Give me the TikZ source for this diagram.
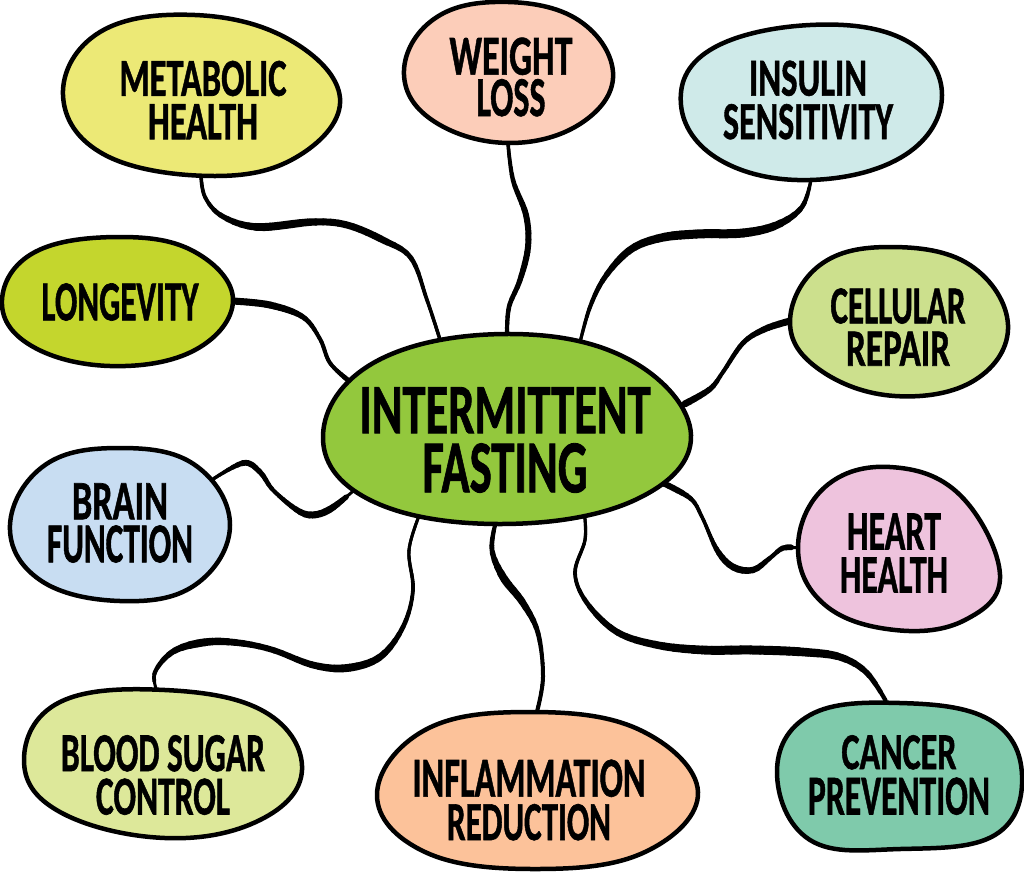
\documentclass[tikz,border=0pt]{standalone}
\usepackage{fontspec}
\usepackage{graphicx}
\usetikzlibrary{shapes.geometric}
\newfontfamily\handfont[FakeBold=1.2]{Carlito}
\definecolor{cMeta}{HTML}{ECE976}\definecolor{cWeight}{HTML}{FCCDB9}\definecolor{cInsulin}{HTML}{CFEAE9}
\definecolor{cLong}{HTML}{C4D62D}\definecolor{cCell}{HTML}{CCE08D}\definecolor{cHub}{HTML}{93C83D}
\definecolor{cBrain}{HTML}{C8DDF2}\definecolor{cHeart}{HTML}{EEC3DD}\definecolor{cBlood}{HTML}{DDE89A}
\definecolor{cInfl}{HTML}{FCC29A}\definecolor{cCancer}{HTML}{7FCAAB}
\newcommand{\fitline}[3]{\resizebox{#1pt}{#2pt}{\handfont\bfseries #3}}
\newcommand{\twolines}[3]{\vbox{\offinterlineskip\halign{\hfil##\hfil\cr #1\cr\noalign{\vskip #3pt}#2\cr}}}
\tikzset{
  blobline/.style={draw=black,line width=4.5pt,line join=round},
  anchorshape/.style={ellipse,inner sep=0pt,outer sep=0pt},
  lettering/.style={inner sep=0pt,outer sep=0pt,text=black},
  link/.style={draw=black,line width=3pt,line cap=round,line join=round},
}
% a connector: #1 its length, #2 widths spread evenly along it, #3 its points.
% Each stretch is the same curve redrawn through a one-window dash pattern.
\newcommand{\taperlink}[3]{%
  \draw[link] plot[smooth,tension=0.6] coordinates {#3};
  \foreach \wx [count=\cx] in {#2} {\global\let\myn\cx}
  \foreach \wb [remember=\wb as \wa (initially 0),count=\ix] in {#2} {
    \ifnum\ix>1
      \foreach \kx in {0,1,2,3} {
        \pgfmathsetmacro\mywid{\wa+(\wb-\wa)*(\kx+0.5)/4}
        \pgfmathsetmacro\myseg{#1/((\myn-1)*4)}
        \pgfmathsetmacro\myoff{(\ix-2+\kx/4)*#1/(\myn-1)}
        \pgfmathsetmacro\myphase{\myseg+3000-\myoff}
        \draw[link,line width=\mywid pt,dash pattern=on \myseg pt off 3000pt,dash phase=\myphase pt]
          plot[smooth,tension=0.6] coordinates {#3};
      }
    \fi
  }
}
\begin{document}
\begin{tikzpicture}[x=1pt,y=-1pt]
\useasboundingbox (0,0) rectangle (1024,873);
% named anchor shapes
\node[anchorshape,minimum width=277pt,minimum height=161pt] (metabolic) at (201,95) {};
\node[anchorshape,minimum width=209pt,minimum height=141pt] (weight) at (508,73) {};
\node[anchorshape,minimum width=261pt,minimum height=155pt] (insulin) at (811,102) {};
\node[anchorshape,minimum width=231pt,minimum height=129pt] (longevity) at (117,301) {};
\node[anchorshape,minimum width=218pt,minimum height=149pt] (cellular) at (899,321) {};
\node[anchorshape,minimum width=368pt,minimum height=190pt] (hub) at (507,429) {};
\node[anchorshape,minimum width=220pt,minimum height=153pt] (brain) at (120,525) {};
\node[anchorshape,minimum width=202pt,minimum height=163pt] (heart) at (899,548) {};
\node[anchorshape,minimum width=278pt,minimum height=148pt] (blood) at (163,764) {};
\node[anchorshape,minimum width=321pt,minimum height=157pt] (inflammation) at (537,790) {};
\node[anchorshape,minimum width=246pt,minimum height=146pt] (cancer) at (900,776) {};
% connectors
\taperlink{333}{3.5,4,6,8,8,7,7,7,5,4,3.5,3.5}{(metabolic.south) (205,197) (222,216) (257,227) (313,222) (347,225) (383,240) (411,258) (427,300) (hub.127)}
\taperlink{198}{3.5,4,5,6,6,6,5,4.5,4}{(weight.south) (513,180) (526,215) (528,247) (520,280) (509,307) (hub.90)}
\taperlink{316}{3,5,8,9,9,9,8,7,5,4,3}{(insulin.south) (802,207) (777,225) (743,233) (697,234) (660,238) (630,250) (605,277) (590,307) (hub.50)}
\taperlink{152}{7,7,7,6.5,5,4,4,4,5}{(longevity.east) (270,305) (303,317) (320,339) (330,363) (hub.163.5)}
\taperlink{139}{7,6.5,5,4.5,4,6,7}{(cellular.west) (765,329) (743,343) (723,372) (710,389) (hub.8)}
\taperlink{167}{3,4,6,5,4,5,7,7,5}{(brain.26) (243,463) (260,472) (273,490) (297,510) (313,515) (332,508) (hub.201)}
\taperlink{183}{6,6,4,3.5,4,6,7,6,4,6}{(hub.-19) (690,498) (702,517) (717,550) (733,567) (753,570) (770,558) (783,548) (heart.west)}
\taperlink{408}{3,3,3.5,4,5,7,8,7,6,6,7,8,5.5,3.5}{(hub.224) (409,550) (413,590) (403,627) (380,657) (347,668) (313,665) (273,650) (240,643) (207,642) (174,651) (155,672) (blood.95)}
\taperlink{204}{4,5,8,7,5,4,4,4}{(hub.263) (492,550) (503,577) (523,603) (538,633) (543,677) (inflammation.north)}
\taperlink{425}{3,3.5,4,6,7,8,9,9,9,8,6,4}{(hub.312) (585,540) (575,573) (587,603) (617,632) (657,645) (703,650) (753,650) (803,652) (840,657) (867,673) (cancer.100)}
% blobs
\begin{scope}[every path/.style={blobline}]
\draw[fill=cMeta] plot[smooth cycle,tension=0.68] coordinates {(63,95)(100,32)(195,15)(290,40)(340,98)(300,155)(215,176)(105,155)};
\draw[fill=cWeight] plot[smooth cycle,tension=0.68] coordinates {(404,75)(430,22)(495,2)(575,18)(613,72)(583,122)(510,143)(435,122)};
\draw[fill=cInsulin] plot[smooth cycle,tension=0.68] coordinates {(681,105)(710,50)(810,25)(905,40)(942,95)(905,155)(810,180)(720,160)};
\draw[fill=cLong] plot[smooth cycle,tension=0.68] coordinates {(2,300)(35,252)(120,237)(195,252)(233,300)(195,350)(110,366)(30,345)};
\draw[fill=cCell] plot[smooth cycle,tension=0.68] coordinates {(790,322)(820,265)(890,247)(970,265)(1008,325)(975,380)(895,396)(820,370)};
\draw[fill=cHub] plot[smooth cycle,tension=0.68] coordinates {(323,435)(375,362)(505,334)(630,360)(691,435)(635,500)(500,524)(370,500)};
\draw[fill=cBrain] plot[smooth cycle,tension=0.68] coordinates {(10,525)(45,465)(120,448)(195,465)(230,525)(195,585)(120,601)(40,580)};
\draw[fill=cHeart] plot[smooth cycle,tension=0.68] coordinates {(798,548)(825,487)(890,467)(960,495)(1000,575)(965,620)(895,630)(825,605)};
\draw[fill=cBlood] plot[smooth cycle,tension=0.68] coordinates {(24,760)(60,702)(165,690)(265,712)(302,770)(260,820)(165,838)(60,812)};
\draw[fill=cInfl] plot[smooth cycle,tension=0.68] coordinates {(377,795)(425,730)(530,712)(640,730)(698,792)(645,852)(535,869)(425,852)};
\draw[fill=cCancer] plot[smooth cycle,tension=0.68] coordinates {(777,772)(810,715)(900,703)(990,720)(1022,775)(995,835)(900,849)(810,840)};
\end{scope}
% lettering
\node[lettering] (metabolicT) at (203,100) {\twolines{\fitline{167}{35}{METABOLIC}}{\fitline{110}{35}{HEALTH}}{8}};
\node[lettering] (weightT) at (511,77) {\twolines{\fitline{123}{37}{WEIGHT}}{\fitline{69}{37}{LOSS}}{4}};
\node[lettering] (insulinT) at (808,100) {\twolines{\fitline{118}{35}{INSULIN}}{\fitline{170}{35}{SENSITIVITY}}{8}};
\node[lettering] (longevityT) at (120,302) {\fitline{157}{37}{LONGEVITY}};
\node[lettering] (cellularT) at (898,327) {\twolines{\fitline{135}{35}{CELLULAR}}{\fitline{104}{34}{REPAIR}}{8}};
\node[lettering] (hubT) at (505,440) {\twolines{\fitline{291}{46}{INTERMITTENT}}{\fitline{165}{49}{FASTING}}{10}};
\node[lettering] (brainT) at (120,523) {\twolines{\fitline{96}{36}{BRAIN}}{\fitline{146}{37}{FUNCTION}}{6}};
\node[lettering] (heartT) at (894,553) {\twolines{\fitline{94}{36}{HEART}}{\fitline{108}{35}{HEALTH}}{8}};
\node[lettering] (bloodT) at (163,775) {\twolines{\fitline{204}{36}{BLOOD SUGAR}}{\fitline{134}{36}{CONTROL}}{7}};
\node[lettering] (inflammationT) at (529,800) {\twolines{\fitline{233}{37}{INFLAMMATION}}{\fitline{164}{36}{REDUCTION}}{7}};
\node[lettering] (cancerT) at (899,775) {\twolines{\fitline{115}{34}{CANCER}}{\fitline{182}{37}{PREVENTION}}{8}};
\end{tikzpicture}
\end{document}
